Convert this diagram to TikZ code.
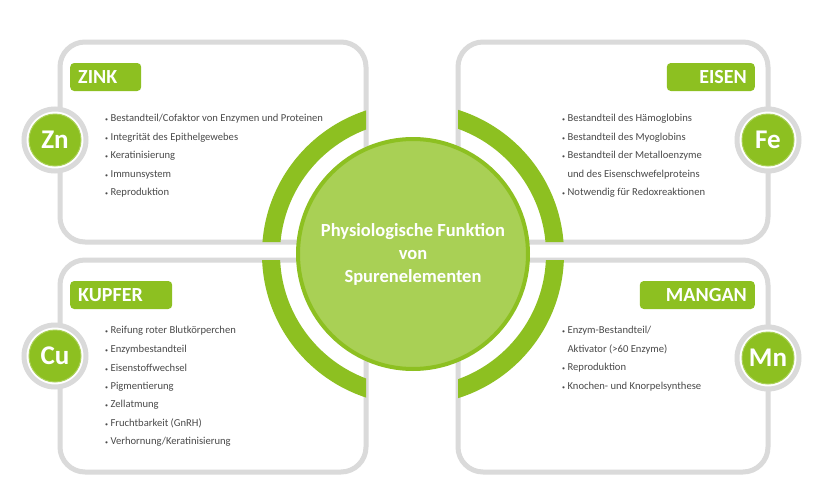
\documentclass[tikz,border=0pt]{standalone}
\usepackage{fontspec}
\setmainfont{Carlito}
\begin{document}
\definecolor{grn}{HTML}{8DC021}
\definecolor{lgrn}{HTML}{A9D055}
\definecolor{gry}{HTML}{DADADA}
\definecolor{txt}{HTML}{4A4A4A}
\begin{tikzpicture}[x=1pt,y=-1pt,
  panel/.style={draw=gry,line width=5pt,fill=white,rounded corners=25pt},
  tag/.style={fill=grn,rounded corners=4pt,text=white,font=\fontsize{20}{20}\selectfont\bfseries,minimum height=28pt,inner xsep=8pt},
  sym/.style={circle,fill=grn,draw=lgrn,line width=1pt,minimum size=52pt,inner sep=0pt,text=white,font=\fontsize{27}{27}\selectfont\bfseries},
  symring/.style={circle,draw=gry,line width=5pt,fill=white,minimum size=62pt,inner sep=0pt},
  item/.style={anchor=west,text=txt,font=\fontsize{10.6}{10.6}\selectfont,inner sep=0pt}]
\useasboundingbox (0,0) rectangle (828,501);
\fill[white] (0,0) rectangle (828,501);
% panels
\draw[panel] (60,42) rectangle (366,242);
\draw[panel] (458,42) rectangle (768,242);
\draw[panel] (60,260) rectangle (366,472);
\draw[panel] (458,260) rectangle (768,472);
% ring
\begin{scope}
\clip (0,0) rectangle (366,242) (458,0) rectangle (828,242) (0,260) rectangle (366,501) (458,260) rectangle (828,501);
\fill[grn,even odd rule] (413,254) circle[radius=151pt] (413,254) circle[radius=133pt];
\end{scope}
\node[circle,fill=lgrn,draw=grn,line width=4pt,minimum size=230pt,inner sep=0pt,align=center,text=white,font=\fontsize{18.5}{23}\selectfont\bfseries] (c) at (413,254) {Physiologische Funktion\\von\\Spurenelementen};
% symbols
\foreach \n/\x/\y/\s in {zn/55/140/Zn, fe/768/140/Fe, cu/55/356/Cu, mn/768/358/Mn}{
  \node[symring] (r\n) at (\x,\y) {};
  \node[sym] (\n) at (\x,\y) {\s};
}
% tags
\node[tag,anchor=west,text width=55pt,align=left] (t1) at (70,77) {ZINK};
\node[tag,anchor=east,text width=72pt,align=right] (t2) at (755,77) {EISEN};
\node[tag,anchor=west,text width=86pt,align=left] (t3) at (70,295) {KUPFER};
\node[tag,anchor=east,text width=99pt,align=right] (t4) at (755,295) {MANGAN};
\newcommand{\bl}{{\fontsize{6}{6}\selectfont\textbullet}\ }
% lists
\node[item] (z1) at (105,119) {\bl Bestandteil/Cofaktor von Enzymen und Proteinen};
\node[item] (z2) at (105,137.5) {\bl Integrität des Epithelgewebes};
\node[item] (z3) at (105,156) {\bl Keratinisierung};
\node[item] (z4) at (105,174.5) {\bl Immunsystem};
\node[item] (z5) at (105,193) {\bl Reproduktion};
\node[item] (e1) at (562,119) {\bl Bestandteil des Hämoglobins};
\node[item] (e2) at (562,137.5) {\bl Bestandteil des Myoglobins};
\node[item] (e3) at (562,156) {\bl Bestandteil der Metalloenzyme};
\node[item] (e4) at (562,174.5) {\phantom{\bl}und des Eisenschwefelproteins};
\node[item] (e5) at (562,193) {\bl Notwendig für Redoxreaktionen};
\node[item] (k1) at (105,331) {\bl Reifung roter Blutkörperchen};
\node[item] (k2) at (105,349.5) {\bl Enzymbestandteil};
\node[item] (k3) at (105,368) {\bl Eisenstoffwechsel};
\node[item] (k4) at (105,386.5) {\bl Pigmentierung};
\node[item] (k5) at (105,405) {\bl Zellatmung};
\node[item] (k6) at (105,423.5) {\bl Fruchtbarkeit (GnRH)};
\node[item] (k7) at (105,442) {\bl Verhornung/Keratinisierung};
\node[item] (m1) at (562,331) {\bl Enzym-Bestandteil/};
\node[item] (m2) at (562,349.5) {\phantom{\bl}Aktivator (>60 Enzyme)};
\node[item] (m3) at (562,368) {\bl Reproduktion};
\node[item] (m4) at (562,386.5) {\bl Knochen- und Knorpelsynthese};
\end{tikzpicture}
\end{document}
